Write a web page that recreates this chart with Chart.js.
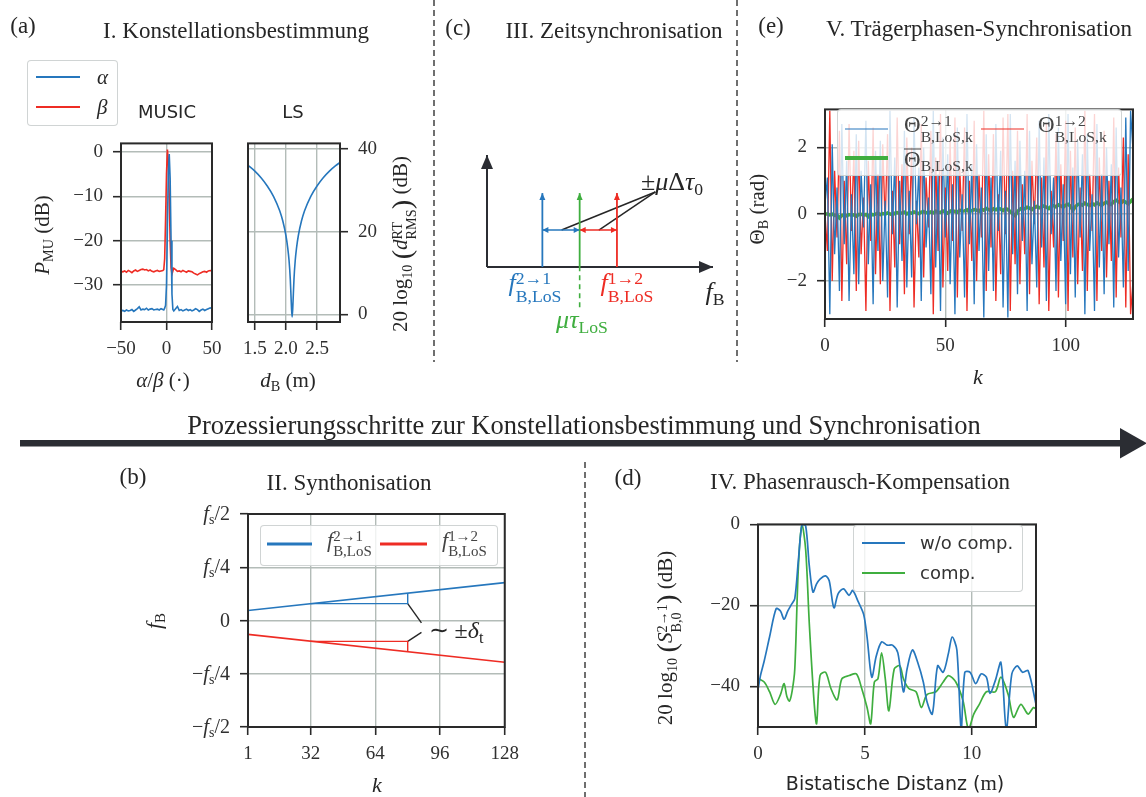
<!DOCTYPE html>
<html>
<head>
<meta charset="utf-8">
<script src="https://cdn.jsdelivr.net/npm/chart.js@4.4.1/dist/chart.umd.min.js"></script>
<style>
  body { margin: 0; background: #fff; }
  #fig { position: relative; width: 1146px; height: 797px; overflow: hidden;
         font-family: 'Liberation Serif', serif; color: #262626; }
  canvas { position: absolute; }
  svg { position: absolute; left: 0; top: 0; }
  .t { position: absolute; white-space: nowrap; line-height: 1; transform: translate(-50%, -50%); }
  .rot { transform: translate(-50%, -50%) rotate(-90deg); }
  .sans { font-family: 'DejaVu Sans', sans-serif; }
  sub { font-size: 0.68em; vertical-align: -0.3em; line-height: 0; }
  .ss { display: inline-block; vertical-align: -0.62em; font-size: 0.68em; line-height: 1.0; text-align: left; }
  .ss > span { display: block; }
  .bp { font-size: 1.35em; vertical-align: -0.12em; }
  .ov { display: inline-block; border-top: 1.3px solid currentColor; line-height: 0.8; padding-top: 1px; }
  .legend { position: absolute; box-sizing: border-box; background: rgba(255,255,255,0.8);
            border: 1px solid rgba(200,204,204,0.85); border-radius: 4px; }
  .sw { position: absolute; height: 0; border-top-style: solid; transform: translateY(-50%); }
  .lt { position: absolute; white-space: nowrap; line-height: 1; transform: translateY(-50%); }
</style>
</head>
<body>
<div id="fig">
  <canvas id="music"></canvas>
  <canvas id="ls"></canvas>
  <canvas id="zeit"></canvas>
  <canvas id="phase"></canvas>
  <canvas id="synth"></canvas>
  <canvas id="noise"></canvas>

  <svg width="1146" height="797">
    <line x1="434" y1="0" x2="434" y2="362" stroke="#333" stroke-width="1.4" stroke-dasharray="6 4"/>
    <line x1="737" y1="0" x2="737" y2="362" stroke="#333" stroke-width="1.4" stroke-dasharray="6 4"/>
    <line x1="585" y1="462" x2="585" y2="797" stroke="#333" stroke-width="1.4" stroke-dasharray="6 4"/>
    <rect x="20" y="440" width="1104" height="6.5" fill="#2b2d33"/>
    <polygon points="1120,428 1147,443.3 1120,458.5" fill="#2b2d33"/>
  </svg>

  <!-- (a) Konstellationsbestimmung -->
  <div class="t" style="left:23px;top:25px;font-size:23px">(a)</div>
  <div class="t" style="left:236px;top:30px;font-size:23px">I. Konstellationsbestimmung</div>
  <div class="t sans" style="left:167px;top:112px;font-size:18px">MUSIC</div>
  <div class="t sans" style="left:293px;top:112px;font-size:18px">LS</div>
  <div class="t rot" style="left:42px;top:235px;font-size:21px"><i>P</i><sub>MU</sub> (dB)</div>
  <div class="t" style="left:163px;top:380px;font-size:21px"><i>α</i>/<i>β</i> (·)</div>
  <div class="t" style="left:288px;top:380px;font-size:21px"><i>d</i><sub>B</sub> (m)</div>
  <div class="t rot" style="left:403px;top:244px;font-size:21px">20 log<sub>10</sub> <span class="bp">(</span><i>d</i><span class="ss"><span>RT</span><span>RMS</span></span><span class="bp">)</span> (dB)</div>
  <div class="legend" style="left:27px;top:60px;width:91px;height:66px">
    <div class="sw" style="left:8px;top:16px;width:44px;border-top-width:2.5px;border-color:#2677bd"></div>
    <div class="lt" style="left:69px;top:16px;font-size:21px"><i>α</i></div>
    <div class="sw" style="left:8px;top:46px;width:44px;border-top-width:2.5px;border-color:#ee2c24"></div>
    <div class="lt" style="left:69px;top:46px;font-size:21px"><i>β</i></div>
  </div>

  <!-- (c) Zeitsynchronisation -->
  <div class="t" style="left:458px;top:27px;font-size:23px">(c)</div>
  <div class="t" style="left:614px;top:30px;font-size:23px">III. Zeitsynchronisation</div>
  <div class="t" style="left:672px;top:182px;font-size:26px">±<i>μ</i>Δ<i>τ</i><sub>0</sub></div>
  <div class="t" style="left:535px;top:288px;font-size:26px;color:#2677bd"><i>f</i><span class="ss"><span>2→1</span><span>B,LoS</span></span></div>
  <div class="t" style="left:627px;top:288px;font-size:26px;color:#ee2c24"><i>f</i><span class="ss"><span>1→2</span><span>B,LoS</span></span></div>
  <div class="t" style="left:715px;top:292px;font-size:26px"><i>f</i><sub>B</sub></div>
  <div class="t" style="left:582px;top:320px;font-size:26px;color:#3fae3f"><i>μτ</i><sub>LoS</sub></div>

  <!-- (e) Traegerphasen-Synchronisation -->
  <div class="t" style="left:771px;top:25px;font-size:23px">(e)</div>
  <div class="t" style="left:979px;top:28px;font-size:23px">V. Trägerphasen-Synchronisation</div>
  <div class="t rot" style="left:757px;top:209px;font-size:21px">Θ<sub>B</sub> (rad)</div>
  <div class="t" style="left:978px;top:377px;font-size:22px"><i>k</i></div>
  <div class="legend" style="left:837px;top:109px;width:285px;height:67px">
    <div class="sw" style="left:7px;top:19px;width:43px;border-top-width:1.5px;border-color:#2677bd"></div>
    <div class="lt" style="left:66px;top:19px;font-size:23px;color:#444">Θ<span class="ss"><span>2→1</span><span>B,LoS,k</span></span></div>
    <div class="sw" style="left:143px;top:19px;width:43px;border-top-width:1.5px;border-color:#ee2c24"></div>
    <div class="lt" style="left:200px;top:19px;font-size:23px;color:#444">Θ<span class="ss"><span>1→2</span><span>B,LoS,k</span></span></div>
    <div class="sw" style="left:7px;top:48px;width:43px;border-top-width:4px;border-color:#3fae3f"></div>
    <div class="lt" style="left:66px;top:49px;font-size:23px;color:#444"><span class="ov">Θ</span><sub>B,LoS,k</sub></div>
  </div>

  <!-- Prozesskette -->
  <div class="t" style="left:584px;top:425px;font-size:26.5px">Prozessierungsschritte zur Konstellationsbestimmung und Synchronisation</div>

  <!-- (b) Synthonisation -->
  <div class="t" style="left:133px;top:476px;font-size:23px">(b)</div>
  <div class="t" style="left:349px;top:482px;font-size:23px">II. Synthonisation</div>
  <div class="t rot" style="left:154px;top:621px;font-size:22px"><i>f</i><sub>B</sub></div>
  <div class="t" style="left:377px;top:785px;font-size:22px"><i>k</i></div>
  <div class="t" style="left:456px;top:630px;font-size:24px">∼ ±<i>δ</i><sub>t</sub></div>
  <div class="legend" style="left:260px;top:525px;width:238px;height:41px">
    <div class="sw" style="left:6px;top:18px;width:45px;border-top-width:3px;border-color:#2677bd"></div>
    <div class="lt" style="left:66px;top:18px;font-size:22px;color:#444"><i>f</i><span class="ss"><span>2→1</span><span>B,LoS</span></span></div>
    <div class="sw" style="left:119px;top:18px;width:47px;border-top-width:3px;border-color:#ee2c24"></div>
    <div class="lt" style="left:181px;top:18px;font-size:22px;color:#444"><i>f</i><span class="ss"><span>1→2</span><span>B,LoS</span></span></div>
  </div>

  <!-- (d) Phasenrausch-Kompensation -->
  <div class="t" style="left:628px;top:477px;font-size:23px">(d)</div>
  <div class="t" style="left:860px;top:481px;font-size:23px">IV. Phasenrausch-Kompensation</div>
  <div class="t rot" style="left:668px;top:638px;font-size:21px">20 log<sub>10</sub> <span class="bp">(</span><i>S</i><span class="ss"><span>2→1</span><span>B,0</span></span><span class="bp">)</span> (dB)</div>
  <div class="t" style="left:895px;top:783px;font-size:19px"><span class="sans">Bistatische Distanz (</span><span style="font-size:21px">m</span><span class="sans">)</span></div>
  <div class="legend" style="left:853px;top:525px;width:170px;height:67px">
    <div class="sw" style="left:8px;top:17px;width:43px;border-top-width:2px;border-color:#2677bd"></div>
    <div class="lt sans" style="left:66px;top:17px;font-size:18px;color:#333">w/o comp.</div>
    <div class="sw" style="left:8px;top:47px;width:43px;border-top-width:2px;border-color:#3fae3f"></div>
    <div class="lt sans" style="left:66px;top:47px;font-size:18px;color:#333">comp.</div>
  </div>
</div>

<script>
// ---------- data ----------
// (a) MUSIC pseudo spectrum over alpha / beta
const musicAngle = [-50, -48, -46, -44, -42, -40, -38, -36, -34, -32, -30, -28, -26, -24, -22, -20, -18, -16, -14, -12, -10, -8, -6, -4,
  -3, -2, -1, 0, 1, 2, 3, 4, 5, 6, 7, 8,
  10, 12, 14, 16, 18, 20, 22, 24, 26, 28, 30, 32, 34, 36, 38, 40, 42, 44, 46, 48, 50];
const musicAlpha = [-35.8, -35.7, -35.9, -35.6, -35.8, -35.7, -35.5, -35.9, -35.6, -35.3, -34.9, -35.6, -35.4, -35.5, -35.2, -35.6, -35.4, -35.3, -35.6, -35.5, -35.4, -35.6, -35.3, -35.5,
  -35.6, -35.2, -34.5, -30.0, -17.0, -5.0, -0.5, -6.0, -20.0, -32.0, -35.5, -35.8,
  -35.3, -34.8, -35.7, -35.5, -35.8, -35.6, -35.4, -35.7, -35.5, -35.8, -35.6, -35.3, -35.5, -35.9, -35.6, -35.4, -35.7, -35.5, -35.3, -35.1, -35.3];
const musicBeta = [-26.9, -27.0, -26.8, -27.1, -26.7, -26.9, -27.2, -26.8, -26.6, -26.9, -26.7, -26.5, -26.4, -26.6, -26.5, -26.8, -26.6, -26.9, -27.0, -26.8, -26.7, -26.9, -26.8, -26.7,
  -26.5, -24.0, -15.0, -5.0, 0.5, -2.0, -10.0, -20.0, -26.0, -27.5, -26.8, -26.2,
  -26.5, -26.9, -26.8, -27.0, -26.7, -26.9, -27.1, -26.8, -26.9, -27.0, -27.3, -27.5, -27.7, -27.4, -27.2, -27.0, -26.9, -27.1, -26.8, -26.7, -26.8];
const musicTicksX = [-50, 0, 50];
const musicTicksY = [-30, -20, -10, 0];

// (a) LS residual over bistatic distance
const lsDist = [1.39, 1.5, 1.6, 1.7, 1.8, 1.9, 1.95, 2.0, 2.03, 2.05, 2.07, 2.08, 2.09, 2.1, 2.11, 2.12, 2.13, 2.15, 2.17, 2.2, 2.25, 2.3, 2.4, 2.5, 2.6, 2.7, 2.8, 2.87];
const lsResidual = [36.1, 34.7, 33.1, 31.1, 28.6, 25.1, 22.6, 19.1, 16.0, 13.1, 8.6, 5.1, 1.5, -0.6, 1.5, 5.1, 8.6, 13.1, 16.0, 19.1, 22.6, 25.1, 28.6, 31.1, 33.1, 34.7, 36.0, 36.8];
const lsTicksX = [1.5, 2.0, 2.5];
const lsTicksY = [0, 20, 40];

// (c) beat frequency sketch: stem positions f21, mu*tau, f12
const zsStemX = [2.45, 4.1, 5.75];
const zsStemTop = 6.6;
const zsSpreadY = 3.3;
const zsNote = [7.45, 6.7];
const zsNoteTargets = [3.3, 4.95];
const zsDashBottom = -3.6;

// (e) carrier phase per chirp k
const theta21 = [0.3, 1.1, -3.0, 2.1, -1.2, 0.8, -2.3, 2.7, -0.9, 1.6, -2.6, 0.6, -1.8, 2.4, -2.1, 1.3,
  -0.4, 2.8, -1.5, 0.9, -2.7, 1.9, -1.1, 2.2, -2.0, 0.4, -2.5, 3.1, -0.6, 1.7, -2.8, 1.0,
  -1.4, 2.5, -2.2, 0.7, -1.9, 2.9, -0.3, 1.4, -2.6, 2.0, -1.0, 0.5, -2.4, 3.1, -1.6, 1.2,
  -2.9, 2.3, -0.7, 1.8, -2.1, 0.9, -3.0, 2.6, -1.3, 0.6, -2.5, 3.0, -0.9, 1.5, -2.7, 2.1,
  -1.1, 0.8, -3.1, 2.4, -1.7, 1.1, -2.3, 2.7, -0.5, 1.9, -2.8, 0.7, -3.1, 3.0, -1.2, 1.6,
  -2.4, 2.2, -0.8, 1.3, -2.9, 2.5, -1.5, 0.4, -2.2, 2.8, -1.0, 1.7, -2.6, 3.0, -0.6, 1.1,
  -2.3, 2.6, -1.4, 0.9, -2.7, 3.0, -1.8, 1.4, -2.5, 2.2, -0.7, 1.8, -3.0, 2.4, -1.1, 0.6,
  -2.9, 2.7, -1.6, 1.2, -2.4, 2.0, -0.9, 1.5, -2.8, 2.6, -1.3, 0.8, -2.2, 2.9, -1.7, 3.1,
  1.9];
const theta12 = [0.0, -1.1, 3.1, -2.0, 1.3, -0.7, 2.5, -2.6, 1.0, -1.5, 2.7, -0.5, 1.9, -2.3, 2.2, -1.2,
  0.5, -2.9, 1.6, -0.8, 2.6, -1.8, 1.2, -2.1, 2.1, -0.3, 2.4, -2.9, 0.7, -1.6, 2.9, -0.9,
  1.5, -2.4, 2.3, -0.6, 2.0, -2.8, 0.4, -1.3, 2.7, -1.9, 1.1, -0.4, 2.5, -3.0, 1.7, -1.1,
  3.0, -2.2, 0.8, -1.7, 2.2, -0.8, 2.9, -2.5, 1.4, -0.5, 2.6, -2.9, 1.0, -1.4, 2.8, -2.0,
  1.2, -0.7, 3.1, -2.3, 1.8, -1.0, 2.4, -2.6, 0.6, -1.8, 2.9, -0.6, 3.0, -2.9, 1.3, -1.5,
  2.5, -2.1, 0.9, -1.2, 3.0, -2.4, 1.6, -0.3, 2.3, -2.7, 1.1, -1.6, 2.7, -2.9, 0.7, -1.0,
  2.4, -2.5, 1.5, -0.8, 2.8, -2.9, 1.9, -1.3, 2.6, -2.1, 0.8, -1.7, 3.1, -2.3, 1.2, -0.5,
  3.0, -2.6, 1.7, -1.1, 2.5, -1.9, 1.0, -1.4, 2.9, -2.5, 1.4, -0.7, 2.3, -2.8, 1.8, -3.0,
  -2.0];
const thetaMean = [0.00, 0.01, -0.02, 0.00, -0.04, -0.03, -0.11, -0.04, -0.02, -0.05, -0.01, -0.03, -0.02, -0.06, -0.01, 0.00,
  -0.03, -0.01, -0.07, 0.01, -0.02, 0.00, 0.03, -0.01, 0.02, 0.00, 0.04, 0.01, -0.02, 0.03, 0.05, 0.02,
  0.04, 0.06, 0.01, 0.05, 0.03, 0.07, 0.04, 0.02, 0.06, 0.08, 0.05, 0.03, 0.07, 0.04, 0.09, 0.06,
  0.05, 0.10, 0.07, 0.03, 0.09, 0.11, 0.08, 0.06, 0.12, 0.09, 0.10, 0.13, 0.07, 0.11, 0.14, 0.12,
  0.09, 0.15, 0.12, 0.17, 0.14, 0.10, 0.16, 0.13, 0.18, 0.15, 0.11, 0.17, 0.14, 0.08, 0.02, -0.04,
  0.08, 0.15, 0.19, 0.16, 0.21, 0.18, 0.14, 0.20, 0.23, 0.19, 0.22, 0.25, 0.21, 0.17, 0.24, 0.26,
  0.22, 0.28, 0.25, 0.21, 0.27, 0.30, 0.24, 0.12, 0.22, 0.29, 0.31, 0.27, 0.33, 0.29, 0.26, 0.32,
  0.28, 0.34, 0.30, 0.27, 0.33, 0.36, 0.31, 0.29, 0.38, 0.42, 0.37, 0.33, 0.40, 0.36, 0.31, 0.38,
  0.46];
const thetaTicksX = [0, 50, 100];
const thetaTicksY = [-2, 0, 2];

// (b) beat frequency drift over chirps (in units of fs)
const synthK = [1, 128];
const synthF21 = [0.047, 0.178];
const synthF12 = [-0.065, -0.196];
const deltaK = [32, 80];
const deltaF21 = [0.079, 0.128];
const deltaF12 = [-0.098, -0.146];
const deltaNoteK = 86.8;
const deltaNoteF = [-0.011, -0.056];
const synthTicksX = [1, 32, 64, 96, 128];
const synthTicksY = [-0.5, -0.25, 0, 0.25, 0.5];
const synthTickLabels = ['-f_s/2', '-f_s/4', '0', 'f_s/4', 'f_s/2'];

// (d) range profile with and without phase noise compensation
const uncompDist = [0, 0.12, 0.29, 0.54, 0.85, 1.05, 1.22, 1.39, 1.56, 1.72, 1.89, 2.06, 2.23, 2.4, 2.57, 2.74, 2.9, 3.16, 3.33, 3.55, 3.75, 4.0, 4.26, 4.43, 4.68, 4.94,
  5.1, 5.32, 5.53, 5.78, 6.04, 6.29, 6.54, 6.8, 6.97, 7.22, 7.47, 7.73, 7.9, 8.15, 8.4, 8.66, 8.91, 9.08, 9.3, 9.5, 9.67, 9.92, 10.18, 10.43, 10.68, 10.85, 11.1, 11.36, 11.61, 11.87, 12.12, 12.37, 12.63, 13.0];
const uncompLevel = [-40.8, -37.2, -33.7, -27.8, -20.8, -21.4, -23.4, -21.4, -19.8, -18.3, -8.7, 0, -0.4, -10.3, -16.7, -14.7, -13.5, -12.7, -13.9, -20.6, -17.1, -15.9, -17.5, -16.3, -19.0, -22.2,
  -27.8, -37.7, -32.5, -29.0, -29.8, -29.8, -31.7, -41.3, -35.7, -31.0, -34.1, -38.9, -43.7, -46.8, -34.9, -36.5, -31.7, -27.8, -31.0, -50.5, -36.5, -36.5, -39.3, -36.9, -37.7, -41.7, -38.5, -34.1, -50.5, -36.9, -34.9, -36.5, -36.1, -44.4];
const compDist = [0, 0.29, 0.54, 0.8, 1.05, 1.22, 1.35, 1.47, 1.6, 1.72, 1.89, 2.06, 2.23, 2.4, 2.62, 2.74, 2.9, 3.16, 3.41, 3.7, 3.92, 4.26, 4.6, 4.85, 5.1, 5.27,
  5.44, 5.61, 5.78, 5.95, 6.12, 6.37, 6.63, 6.8, 7.05, 7.39, 7.64, 7.9, 8.32, 8.66, 8.91, 9.25, 9.59, 9.84, 10.09, 10.35, 10.68, 11.1, 11.36, 11.7, 11.95, 12.29, 12.63, 12.88, 13.0];
const compLevel = [-38.0, -38.9, -41.3, -44.4, -42.0, -39.3, -42.5, -43.6, -41.0, -35.7, -10.3, 0, -6.3, -24.6, -43.6, -49.2, -37.3, -36.5, -40.5, -43.3, -38.1, -37.3, -36.9, -40.5, -45.2, -49.2,
  -38.9, -38.1, -31.7, -38.0, -46.0, -35.7, -34.9, -38.1, -40.5, -41.3, -45.2, -42.0, -41.3, -38.9, -37.3, -38.9, -43.6, -50.5, -46.8, -44.4, -41.3, -41.3, -37.7, -42.0, -47.6, -44.4, -46.8, -45.2, -45.6];
const noiseTicksX = [0, 5, 10];
const noiseTicksY = [-40, -20, 0];

// ---------- styling ----------
const SERIF = "'Liberation Serif', serif";
const FRAME = '#2a2a2a';
const GRID = '#b3bcb8';
const TXT = '#303030';
const BLUE = '#2677bd';
const RED = '#ee2c24';
const GREEN = '#3fae3f';
const TICK_FONT = { family: SERIF, size: 19 };

Chart.defaults.font.family = SERIF;

const minus = v => String(v).replace('-', '\u2212');
const pts = (xs, ys) => ys.map((y, i) => ({ x: xs[i], y }));
const byIndex = ys => ys.map((y, k) => ({ x: k, y }));

// dark box around the axes, drawn over the lines
const framePlugin = {
  id: 'frame',
  afterDatasetsDraw(chart, args, opts) {
    if (!opts.show) return;
    const a = chart.chartArea, ctx = chart.ctx;
    ctx.save();
    ctx.strokeStyle = FRAME;
    ctx.lineWidth = 2;
    ctx.strokeRect(a.left, a.top, a.right - a.left, a.bottom - a.top);
    ctx.restore();
  }
};

// filled arrow heads at the ends of line datasets that ask for them
const arrowPlugin = {
  id: 'arrowHeads',
  afterDatasetsDraw(chart) {
    const ctx = chart.ctx;
    chart.data.datasets.forEach((ds, i) => {
      if (!ds.heads) return;
      const p = chart.getDatasetMeta(i).data;
      const ends = [];
      if (ds.heads.end) ends.push([p[p.length - 2], p[p.length - 1]]);
      if (ds.heads.start) ends.push([p[1], p[0]]);
      ends.forEach(([from, to]) => {
        const ang = Math.atan2(to.y - from.y, to.x - from.x);
        ctx.save();
        ctx.translate(to.x, to.y);
        ctx.rotate(ang);
        ctx.fillStyle = ds.borderColor;
        ctx.beginPath();
        ctx.moveTo(0, 0);
        ctx.lineTo(-ds.heads.len, -ds.heads.w / 2);
        ctx.lineTo(-ds.heads.len, ds.heads.w / 2);
        ctx.closePath();
        ctx.fill();
        ctx.restore();
      });
    });
  }
};

// y tick labels like f_s/4 with a real subscript
const fracTickPlugin = {
  id: 'fracTicks',
  afterDraw(chart) {
    const ys = chart.scales.y, ctx = chart.ctx;
    const xRight = chart.chartArea.left - 8 - 10;
    ctx.save();
    ctx.fillStyle = TXT;
    ctx.textBaseline = 'alphabetic';
    synthTickLabels.forEach((lab, i) => {
      const y = ys.getPixelForValue(synthTicksY[i]) + 6;
      let parts;
      if (lab.indexOf('f_s') < 0) parts = [[lab, '20px ' + SERIF, 0]];
      else {
        const [pre, post] = lab.split('f_s');
        parts = [[minus(pre), '20px ' + SERIF, 0], ['f', 'italic 21px ' + SERIF, 0], ['s', '14px ' + SERIF, 4], [post, '20px ' + SERIF, 0]];
      }
      let w = 0;
      parts.forEach(pt => { ctx.font = pt[1]; pt.push(ctx.measureText(pt[0]).width); w += pt[3]; });
      let x = xRight - w;
      parts.forEach(pt => { ctx.font = pt[1]; ctx.fillText(pt[0], x, y + pt[2]); x += pt[3]; });
    });
    ctx.restore();
  }
};

function axis(pos, min, max, ticks, size, fmt, showLabels) {
  const horiz = pos === 'bottom';
  return {
    type: 'linear', position: pos, min, max,
    afterBuildTicks: s => { s.ticks = ticks.map(v => ({ value: v })); },
    afterFit: s => { if (horiz) s.height = size; else s.width = size; },
    grid: { color: GRID, lineWidth: 1.4, tickColor: FRAME, tickLength: 8, tickWidth: 1.6 },
    border: { display: false },
    ticks: {
      display: showLabels !== false, color: TXT, font: TICK_FONT, padding: horiz ? 8 : 10,
      maxRotation: 0, autoSkip: false, callback: fmt || (v => minus(v))
    }
  };
}

function makeChart(id, box, pad, datasets, scales, opts) {
  opts = opts || {};
  const cv = document.getElementById(id);
  cv.width = box.w + pad.l + pad.r;
  cv.height = box.h + pad.t + pad.b;
  cv.style.left = (box.x - pad.l) + 'px';
  cv.style.top = (box.y - pad.t) + 'px';
  return new Chart(cv, {
    type: 'scatter',
    data: { datasets },
    options: {
      responsive: false, animation: false, devicePixelRatio: 1,
      layout: { padding: opts.padding || { left: 0, right: pad.r, top: pad.t, bottom: 0 } },
      plugins: { legend: { display: false }, tooltip: { enabled: false }, frame: { show: opts.frame !== false } },
      elements: { point: { radius: 0 } },
      scales
    },
    plugins: [framePlugin].concat(opts.plugins || [])
  });
}

const line = (data, color, width, extra) => Object.assign({
  data, showLine: true, borderColor: color, backgroundColor: color, borderWidth: width, pointRadius: 0, tension: 0
}, extra || {});

// ---------- (a) MUSIC ----------
makeChart('music', { x: 121, y: 134, w: 91, h: 188 }, { l: 60, r: 20, t: 12, b: 45 }, [
  line(pts(musicAngle, musicAlpha), BLUE, 1.6),
  line(pts(musicAngle, musicBeta), RED, 1.6)
], {
  x: axis('bottom', -50, 50, musicTicksX, 45),
  y: axis('left', -38.3, 1.9, musicTicksY, 60)
});

// ---------- (a) LS ----------
makeChart('ls', { x: 248, y: 134, w: 92, h: 188 }, { l: 15, r: 55, t: 12, b: 45 }, [
  line(pts(lsDist, lsResidual), BLUE, 1.6, { cubicInterpolationMode: 'monotone' })
], {
  x: axis('bottom', 1.39, 2.87, lsTicksX, 45, v => v.toFixed(1)),
  y: axis('right', -1.84, 41.4, lsTicksY, 55)
}, { padding: { left: 15, right: 0, top: 12, bottom: 0 } });

// ---------- (c) sketch of the beat frequencies ----------
const [fa, fm, fb] = zsStemX;
makeChart('zeit', { x: 487, y: 155, w: 226, h: 112 }, { l: 20, r: 25, t: 15, b: 70 }, [
  line([{ x: fm, y: zsDashBottom }, { x: fm, y: 0 }], GREEN, 1.6, { borderDash: [5, 4], clip: false }),
  line([{ x: fa, y: 0 }, { x: fa, y: zsStemTop }], BLUE, 1.8, { heads: { end: true, len: 7, w: 6 } }),
  line([{ x: fm, y: 0 }, { x: fm, y: zsStemTop }], GREEN, 1.8, { heads: { end: true, len: 7, w: 6 } }),
  line([{ x: fb, y: 0 }, { x: fb, y: zsStemTop }], RED, 1.8, { heads: { end: true, len: 7, w: 6 } }),
  line([{ x: fa, y: zsSpreadY }, { x: fm, y: zsSpreadY }], BLUE, 1.6, { heads: { start: true, end: true, len: 6, w: 6 } }),
  line([{ x: fm, y: zsSpreadY }, { x: fb, y: zsSpreadY }], RED, 1.6, { heads: { start: true, end: true, len: 6, w: 6 } }),
  line([{ x: zsNote[0], y: zsNote[1] }, { x: zsNoteTargets[0], y: zsSpreadY }], '#262626', 1.5),
  line([{ x: zsNote[0], y: zsNote[1] }, { x: zsNoteTargets[1], y: zsSpreadY }], '#262626', 1.5),
  line([{ x: 0, y: 0 }, { x: 10, y: 0 }], '#2b2d33', 2, { clip: false, heads: { end: true, len: 14, w: 12 } }),
  line([{ x: 0, y: 0 }, { x: 0, y: 10 }], '#2b2d33', 2, { clip: false, heads: { end: true, len: 14, w: 12 } })
], {
  x: { type: 'linear', min: 0, max: 10, display: false },
  y: { type: 'linear', min: 0, max: 10, display: false }
}, { frame: false, plugins: [arrowPlugin], padding: { left: 20, right: 25, top: 15, bottom: 70 } });

// ---------- (e) carrier phase ----------
makeChart('phase', { x: 825, y: 100, w: 308, h: 219 }, { l: 60, r: 13, t: 12, b: 45 }, [
  line(byIndex(theta21), BLUE, 1.3),
  line(byIndex(theta12), RED, 1.3),
  line(byIndex(thetaMean), GREEN, 3.5)
], {
  x: axis('bottom', 0, 128, thetaTicksX, 45),
  y: axis('left', -Math.PI, Math.PI, thetaTicksY, 60)
});

// ---------- (b) beat frequency drift ----------
makeChart('synth', { x: 248, y: 514, w: 259, h: 213 }, { l: 80, r: 20, t: 12, b: 45 }, [
  line(pts(synthK, synthF21), BLUE, 1.6),
  line(pts(synthK, synthF12), RED, 1.6),
  line([{ x: deltaK[0], y: deltaF21[0] }, { x: deltaK[1], y: deltaF21[0] }, { x: deltaK[1], y: deltaF21[1] }], BLUE, 1.4),
  line([{ x: deltaK[0], y: deltaF12[0] }, { x: deltaK[1], y: deltaF12[0] }, { x: deltaK[1], y: deltaF12[1] }], RED, 1.4),
  line([{ x: deltaK[1], y: deltaF21[0] }, { x: deltaNoteK, y: deltaNoteF[0] }], '#262626', 1.4),
  line([{ x: deltaK[1], y: deltaF12[0] }, { x: deltaNoteK, y: deltaNoteF[1] }], '#262626', 1.4)
], {
  x: axis('bottom', 1, 128, synthTicksX, 45),
  y: axis('left', -0.5, 0.5, synthTicksY, 80, null, false)
}, { plugins: [fracTickPlugin] });

// ---------- (d) range profile ----------
makeChart('noise', { x: 758, y: 515, w: 278, h: 212 }, { l: 65, r: 20, t: 12, b: 45 }, [
  line(pts(uncompDist, uncompLevel), BLUE, 1.7, { tension: 0.3 }),
  line(pts(compDist, compLevel), GREEN, 1.7, { tension: 0.3 })
], {
  x: axis('bottom', 0, 13, noiseTicksX, 45),
  y: axis('left', -50, 0, noiseTicksY, 65)
});
</script>
</body>
</html>
